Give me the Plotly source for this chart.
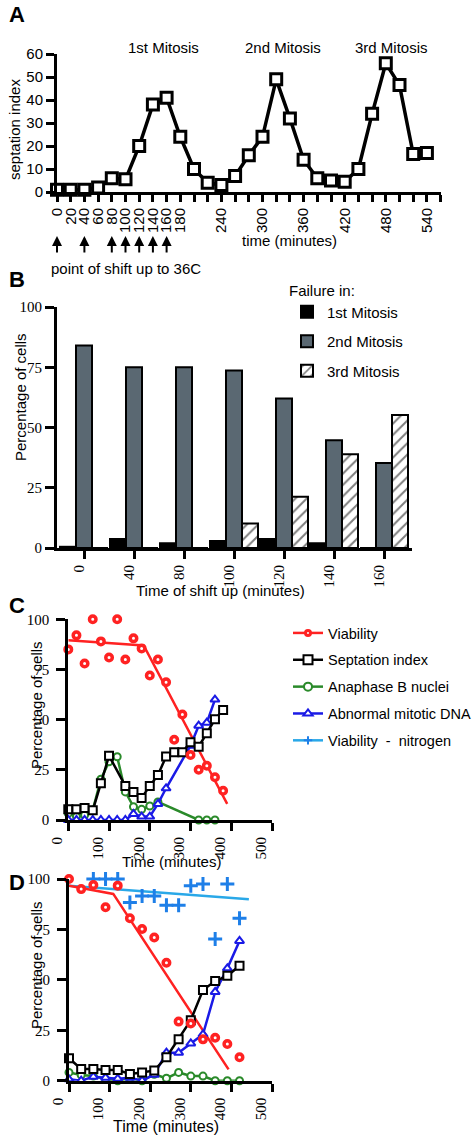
import plotly.graph_objects as go

W, H = 476, 1136
def px(x): return x / W
def py(y): return 1 - y / H

# ---------------- Panel A data ----------------
a_time = [0, 20, 40, 60, 80, 100, 120, 140, 160, 180, 200, 220, 240, 260, 280,
          300, 320, 340, 360, 380, 400, 420, 440, 460, 480, 500, 520, 540]
a_septation = [1, 1, 1, 2, 6, 5.5, 20, 38, 41, 24, 10, 4, 3, 7, 16,
               24, 49, 32, 14, 6, 5, 4.5, 10, 34, 56, 46.5, 16.5, 17]
a_tickvals = [0, 20, 40, 60, 80, 100, 120, 140, 160, 180, 200, 220, 240, 260, 280,
              300, 320, 340, 360, 380, 400, 420, 440, 460, 480, 500, 520, 540, 560]
a_ticktext = ["0", "20", "40", "60", "80", "100", "120", "140", "160", "180", "", "", "240", "", "",
              "300", "", "", "360", "", "", "420", "", "", "480", "", "", "540", ""]
shift_times = [0, 40, 80, 100, 120, 140, 160]
mitosis_labels = ["1st Mitosis", "2nd Mitosis", "3rd Mitosis"]

# ---------------- Panel B data ----------------
b_categories = ["0", "40", "80", "100", "120", "140", "160"]
b_first = [0.5, 3.7, 2, 2.9, 3.7, 2, 0]
b_second = [84, 75, 75, 73.7, 62, 44.7, 35.3]
b_third = [0, 0, 0, 10.2, 21.3, 38.9, 55.2]

# ---------------- Panel C data ----------------
c_via_t = [0, 20, 40, 60, 80, 100, 120, 140, 160, 180, 200, 220, 240, 260, 280, 300, 320, 340, 360, 380]
c_via = [85, 92, 78, 100, 89, 81, 100, 80, 90.5, 85.5, 72, 80, 68.6, 40, 52.6, 32.4, 25, 27, 21.3, 14.6]
c_via_fit_t = [0, 185, 390]
c_via_fit = [89.5, 87, 8]
c_sep_t = [0, 20, 40, 60, 80, 100, 140, 160, 180, 200, 220, 240, 260, 280, 300, 320, 340, 360, 380]
c_sep = [5.3, 5.3, 6, 4.8, 18.3, 32, 17, 14, 11, 17, 22.4, 31.6, 33.7, 33.7, 38.7, 36.5, 43.2, 50.2, 54.8]
c_ana_t = [0, 20, 40, 60, 80, 100, 120, 140, 160, 180, 200, 220, 320, 340, 360]
c_ana = [3.3, 1.7, 2.5, 5, 20.3, 29, 31.5, 14, 6.6, 5.3, 7, 9, 0, 0, 0]
c_abn_t = [0, 20, 40, 60, 80, 100, 120, 140, 160, 180, 200, 220, 240, 300, 320, 340, 360]
c_abn = [0, 0, 0, 0, 0, 0, 0, 0, 3, 1.7, 1.7, 8, 15.8, 37, 47, 48.5, 60]

# ---------------- Panel D data ----------------
d_t = [0, 30, 60, 90, 120, 150, 180, 210, 240, 270, 300, 330, 360, 390, 420]
d_via = [100, 95, 97, 86, 96.7, 80.5, 75.2, 71, 58.5, 29.3, 28.4, 20.5, 21.3, 18.2, 11.6]
d_via_fit_t = [0, 109, 393]
d_via_fit = [96.7, 92.6, 5.6]
d_sep = [11.1, 5.8, 5.8, 5.3, 5.3, 3.3, 4.1, 5.1, 11.6, 20.5, 30, 45, 49.4, 52, 57]
d_abn = [0.7, 0, 2, 1.5, 1, 1.5, 0, 3, 13.9, 13.9, 18.5, 23, 44, 55.7, 69.3]
d_ana = [4.1, 2.8, 2.3, 0.8, 0, 1.2, 0, 3.2, 1.2, 4.1, 2.3, 2.3, 0, 0, 0]
d_nit_t = [60, 90, 120, 150, 180, 210, 240, 270, 300, 330, 360, 390, 420]
d_nit = [100, 100, 100, 88.4, 91.6, 91.6, 87, 87, 96.7, 97.5, 70.3, 97.5, 80.5]
d_nit_fit_t = [0, 443]
d_nit_fit = [96.7, 90]

series_names = ["Viability", "Septation index", "Anaphase B nuclei",
                "Abnormal mitotic DNA", "Viability  -  nitrogen"]

SANS = "Liberation Sans"
SERIF = "Liberation Serif"
RED = "#ff2222"
GREEN = "#2a8a2a"
BLUE = "#1a1ae6"
NBLUE = "#1e7fe8"
LBLUE = "#29a8e8"
GRAY = "#5a6872"

fig = go.Figure()

# ---- A ----
fig.add_trace(go.Scatter(
    x=a_time, y=a_septation, mode="lines+markers", xaxis="x", yaxis="y",
    line=dict(color="black", width=3.5),
    marker=dict(symbol="square", size=11, color="white", line=dict(color="black", width=3)),
    showlegend=False, cliponaxis=False))

# ---- B ----
fig.add_trace(go.Bar(x=b_categories, y=b_first, name="1st Mitosis", xaxis="x2", yaxis="y2",
                     marker=dict(color="black", line=dict(color="black", width=2)),
                     legend="legend", legendgroup="b1"))
fig.add_trace(go.Bar(x=b_categories, y=b_second, name="2nd Mitosis", xaxis="x2", yaxis="y2",
                     marker=dict(color=GRAY, line=dict(color="black", width=2)),
                     legend="legend", legendgroup="b2"))
fig.add_trace(go.Bar(x=b_categories, y=b_third, name="3rd Mitosis", xaxis="x2", yaxis="y2",
                     marker=dict(color="white", line=dict(color="black", width=2),
                                 pattern=dict(shape="/", fgcolor="black", bgcolor="white",
                                              size=8, solidity=0.25)),
                     legend="legend", legendgroup="b3"))

def add_panel(xa, ya, via_t, via, fit_t, fit, sep_t, sep, ana_t, ana, abn_t, abn):
    fig.add_trace(go.Scatter(x=fit_t, y=fit, mode="lines", xaxis=xa, yaxis=ya,
                             line=dict(color=RED, width=2.5), showlegend=False, cliponaxis=False))
    fig.add_trace(go.Scatter(x=ana_t, y=ana, mode="lines+markers", xaxis=xa, yaxis=ya,
                             line=dict(color=GREEN, width=2.5),
                             marker=dict(symbol="circle", size=7, color="white",
                                         line=dict(color=GREEN, width=2)),
                             showlegend=False, cliponaxis=False))
    fig.add_trace(go.Scatter(x=abn_t, y=abn, mode="lines+markers", xaxis=xa, yaxis=ya,
                             line=dict(color=BLUE, width=2.5),
                             marker=dict(symbol="triangle-up", size=8, color="white",
                                         line=dict(color=BLUE, width=2)),
                             showlegend=False, cliponaxis=False))
    fig.add_trace(go.Scatter(x=sep_t, y=sep, mode="lines+markers", xaxis=xa, yaxis=ya,
                             line=dict(color="black", width=2.5),
                             marker=dict(symbol="square", size=8, color="white",
                                         line=dict(color="black", width=2)),
                             showlegend=False, cliponaxis=False))
    fig.add_trace(go.Scatter(x=via_t, y=via, mode="markers", xaxis=xa, yaxis=ya,
                             marker=dict(symbol="circle", size=6.5, color="white",
                                         line=dict(color=RED, width=3.5)),
                             showlegend=False, cliponaxis=False))

# ---- C ----
add_panel("x3", "y3", c_via_t, c_via, c_via_fit_t, c_via_fit, c_sep_t, c_sep,
          c_ana_t, c_ana, c_abn_t, c_abn)

# ---- D ----
fig.add_trace(go.Scatter(x=d_nit_fit_t, y=d_nit_fit, mode="lines", xaxis="x4", yaxis="y4",
                         line=dict(color=LBLUE, width=2.5), showlegend=False, cliponaxis=False))
fig.add_trace(go.Scatter(x=d_nit_t, y=d_nit, mode="markers", xaxis="x4", yaxis="y4",
                         marker=dict(symbol="cross-thin", size=10, line=dict(color=NBLUE, width=3)),
                         showlegend=False, cliponaxis=False))
add_panel("x4", "y4", d_t, d_via, d_via_fit_t, d_via_fit, d_t, d_sep, d_t, d_ana, d_t, d_abn)

# ---- C legend entries ----
leg_styles = [
    dict(line=dict(color=RED, width=2.5),
         marker=dict(symbol="circle", size=5, color="white", line=dict(color=RED, width=3))),
    dict(line=dict(color="black", width=2.5),
         marker=dict(symbol="square", size=9, color="white", line=dict(color="black", width=2))),
    dict(line=dict(color=GREEN, width=2.5),
         marker=dict(symbol="circle", size=8, color="white", line=dict(color=GREEN, width=2))),
    dict(line=dict(color=BLUE, width=2.5),
         marker=dict(symbol="triangle-up", size=8, color="white", line=dict(color=BLUE, width=2))),
    dict(line=dict(color=LBLUE, width=2.5),
         marker=dict(symbol="cross-thin", size=6, line=dict(color=NBLUE, width=2))),
]
for i, (nm, st) in enumerate(zip(series_names, leg_styles)):
    fig.add_trace(go.Scatter(x=[None], y=[None], mode="lines+markers", name=nm,
                             xaxis="x3", yaxis="y3", legend="legend2",
                             legendgroup="c%d" % i, **st))

axis_common = dict(showline=True, linecolor="black", linewidth=3, showgrid=False,
                   zeroline=False, ticks="outside", tickcolor="black", tickwidth=2.5,
                   mirror=False, automargin=False)

fig.update_layout(
    width=W, height=H, margin=dict(l=0, r=0, t=0, b=0, pad=0, autoexpand=False),
    paper_bgcolor="white", plot_bgcolor="white",
    font=dict(family=SANS, size=15, color="black"),
    barmode="group", bargap=0.04, bargroupgap=0,
    xaxis=dict(axis_common, domain=[px(57), px(440.6)], anchor="y", range=[0, 560],
               tickvals=a_tickvals, ticktext=a_ticktext, tickangle=-90, ticklen=7,
               tickfont=dict(family=SANS, size=15)),
    yaxis=dict(axis_common, domain=[py(192), py(54)], anchor="x", range=[0, 60],
               tickvals=[0, 10, 20, 30, 40, 50, 60], ticklen=8,
               tickfont=dict(family=SANS, size=15)),
    xaxis2=dict(axis_common, domain=[px(57), px(412)], anchor="y2", type="category",
                range=[-0.54, 6.56], tickangle=-90, ticklen=8, ticklabelshift=-5,
                tickfont=dict(family=SERIF, size=15)),
    yaxis2=dict(axis_common, domain=[py(548), py(307)], anchor="x2", range=[0, 100],
                tickvals=[0, 25, 50, 75, 100], ticklen=9,
                tickfont=dict(family=SERIF, size=15)),
    xaxis3=dict(axis_common, domain=[px(68.3), px(272)], anchor="y3", range=[0, 500],
                tickvals=[0, 100, 200, 300, 400, 500], tickangle=-90, ticklen=8,
                ticklabelshift=-11, tickfont=dict(family=SERIF, size=15)),
    yaxis3=dict(axis_common, domain=[py(820), py(619.3)], anchor="x3", range=[0, 100],
                tickvals=[0, 25, 50, 75, 100], ticklen=9, ticklabelstandoff=4,
                tickfont=dict(family=SERIF, size=15)),
    xaxis4=dict(axis_common, domain=[px(69), px(272)], anchor="y4", range=[0, 500],
                tickvals=[0, 100, 200, 300, 400, 500], tickangle=-90, ticklen=8,
                ticklabelshift=-11, tickfont=dict(family=SERIF, size=15)),
    yaxis4=dict(axis_common, domain=[py(1080.7), py(879)], anchor="x4", range=[0, 100],
                tickvals=[0, 25, 50, 75, 100], ticklen=9, ticklabelstandoff=4,
                tickfont=dict(family=SERIF, size=15)),
    legend=dict(x=px(287), y=py(276), xanchor="left", yanchor="top",
                bgcolor="rgba(0,0,0,0)", font=dict(family=SANS, size=15),
                title=dict(text="Failure in:", font=dict(family=SANS, size=15)),
                traceorder="grouped", tracegroupgap=7),
    legend2=dict(x=px(288), y=py(617), xanchor="left", yanchor="top",
                 bgcolor="rgba(0,0,0,0)", font=dict(family=SANS, size=14.5),
                 traceorder="grouped", tracegroupgap=5),
)

ann = []
for letter, (lx, ly) in zip("ABCD", [(17, 14), (17, 279), (17, 605), (17, 882)]):
    ann.append(dict(text="<b>%s</b>" % letter, x=px(lx), y=py(ly), xref="paper", yref="paper",
                    showarrow=False, font=dict(family=SANS, size=22), xanchor="center", yanchor="middle"))
for lab, cx in zip(mitosis_labels, [163, 283, 391]):
    ann.append(dict(text=lab, x=px(cx), y=py(47), xref="paper", yref="paper", showarrow=False,
                    font=dict(family=SANS, size=15), xanchor="center", yanchor="middle"))
titles = [
    ("septation index", 14, 130, -90, 15),
    ("time (minutes)", 289, 241, 0, 15),
    ("point of shift up to 36C", 126, 268, 0, 15),
    ("Percentage of cells", 20, 397, -90, 15),
    ("Time of shift up (minutes)", 220, 590, 0, 15),
    ("Percentage of cells", 36, 705, -90, 15),
    ("Time (minutes)", 171, 861, 0, 15),
    ("Percentage of cells", 36, 965, -90, 15),
    ("Time (minutes)", 166, 1126, 0, 16),
]
for t, tx, ty, ang, sz in titles:
    ann.append(dict(text=t, x=px(tx), y=py(ty), xref="paper", yref="paper", showarrow=False,
                    textangle=ang, font=dict(family=SANS, size=sz),
                    xanchor="center", yanchor="middle"))
for t in shift_times:
    ann.append(dict(text="", x=t, xref="x", y=py(236), yref="paper", showarrow=True,
                    arrowhead=2, arrowsize=1, arrowwidth=2, arrowcolor="black", ax=0, ay=18))
fig.update_layout(annotations=ann)

fig.write_html("out.html", config={"displayModeBar": False},
               post_script="document.body.style.margin='0px';document.body.style.overflow='hidden';")
